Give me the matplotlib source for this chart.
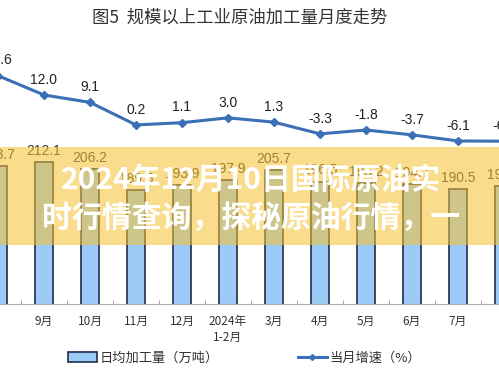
import matplotlib
matplotlib.use('Agg')
import matplotlib.pyplot as plt
from matplotlib.patches import Rectangle, Patch
from matplotlib.lines import Line2D

plt.rcParams['font.family'] = ['Noto Sans CJK SC', 'DejaVu Sans']

# data (values under the banner are estimates)
months = ['2023年\n8月', '9月', '10月', '11月', '12月', '2024年\n1-2月',
          '3月', '4月', '5月', '6月', '7月', '8月']
daily_output = [208.7, 212.1, 206.2, 189.5, 193.9, 197.9,
                205.7, 196.5, 195.2, 194.7, 190.5, 192.6]
growth = [19.6, 12.0, 9.1, 0.2, 1.1, 3.0, 1.3, -3.3, -1.8, -3.7, -6.1, -6.2]

title = '图5  规模以上工业原油加工量月度走势'
banner_lines = ['2024年12月10日国际原油实', '时行情查询，探秘原油行情，一']

bar_face = '#9DCBF7'
bar_edge = '#1F2D4A'
line_color = '#3B6FB6'
num_font = ['Liberation Sans', 'DejaVu Sans']

fig = plt.figure(figsize=(4.99, 3.92), dpi=100)
ax = fig.add_axes([0, 88 / 392, 1, 264 / 392])
x = list(range(len(months)))

# bars: daily processing volume
ax.bar(x, daily_output, width=0.41, color=bar_face, edgecolor=bar_edge,
       linewidth=1.2, zorder=2)
for xi, v in zip(x, daily_output):
    ax.annotate(f'{v:.1f}', (xi, v), xytext=(0, 3), textcoords='offset points',
                ha='center', va='bottom', fontsize=10, color='#333333',
                family=num_font, annotation_clip=False)

ax.set_ylim(98.5, 309.7)
ax.set_xticks(x)
ax.set_xticklabels(months, fontsize=8.5, color='#333333', linespacing=1.25)
ax.set_xticks([i + 0.5 for i in range(-1, len(months))], minor=True)
ax.tick_params(axis='x', which='major', length=0, pad=8)
ax.tick_params(axis='x', which='minor', length=3, direction='in', color='#999999')
ax.set_yticks([])
for side in ['top', 'left', 'right']:
    ax.spines[side].set_visible(False)
ax.spines['bottom'].set_color('#AAAAAA')

# line: year-on-year growth
ax2 = ax.twinx()
ax2.plot(x, growth, color=line_color, linewidth=2.2, marker='D', markersize=4,
         zorder=3)
for xi, v in zip(x, growth):
    ax2.annotate(f'{v:.1f}', (xi, v), xytext=(0, 6), textcoords='offset points',
                 ha='center', va='bottom', fontsize=10, color='#222222',
                 family=num_font, annotation_clip=False)
ax2.set_ylim(-70.3, 33.65)
ax2.set_yticks([])
for side in ['top', 'left', 'right', 'bottom']:
    ax2.spines[side].set_visible(False)
ax2.patch.set_visible(False)

# the source chart is cropped on both sides
ax.set_xlim(2 / 46, 501 / 46)

fig.text(0.48, 1 - 18 / 392, title, ha='center', va='center', fontsize=12.5,
         color='#333333')

handles = [Patch(facecolor=bar_face, edgecolor=bar_edge, linewidth=1.2),
           Line2D([], [], color=line_color, linewidth=2.2, marker='D', markersize=3)]
fig.legend(handles, ['日均加工量（万吨）', '当月增速（%）'], loc='center',
           bbox_to_anchor=(0.49, 1 - 358 / 392), ncol=2, frameon=False,
           fontsize=9.5, handlelength=2.2, handletextpad=0.2, columnspacing=6.0,
           labelcolor='#333333')

# overlay banner
fig.add_artist(Rectangle((0, 1 - 245 / 392), 1, 98 / 392, transform=fig.transFigure,
                         facecolor='#F6C132', alpha=0.56, edgecolor='none', zorder=5))
fig.text(0.503, 1 - 180 / 392, banner_lines[0], ha='center', va='center',
         fontsize=21.5, fontweight='heavy', color='white', zorder=6)
fig.text(0.503, 1 - 218 / 392, banner_lines[1], ha='center', va='center',
         fontsize=21.5, fontweight='heavy', color='white', zorder=6)

fig.savefig('out.png', dpi=100)
